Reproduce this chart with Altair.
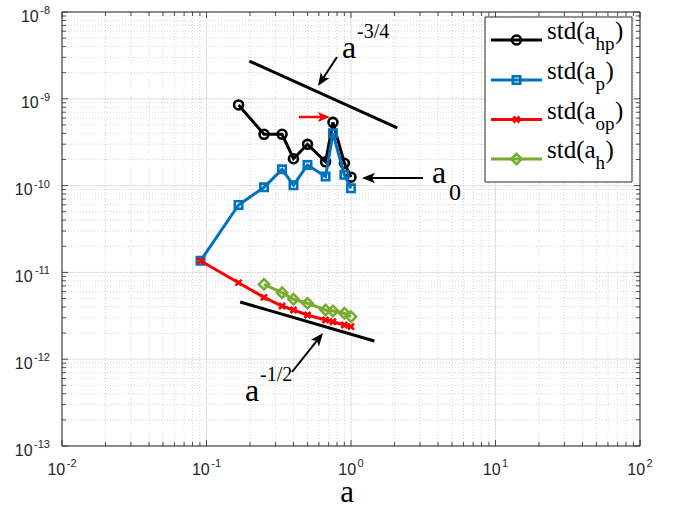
import math
import altair as alt
import pandas as pd

# ---------------- data ----------------
a_hp = [1/6, 0.25, 1/3, 0.4, 0.5, 0.667, 0.75, 0.9, 1.0]
std_hp = [8.5e-10, 3.9e-10, 3.9e-10, 2.04e-10, 2.99e-10, 1.88e-10, 5.36e-10, 1.81e-10, 1.25e-10]

a_p = [0.0909, 1/6, 0.25, 1/3, 0.4, 0.5, 0.667, 0.75, 0.9, 1.0]
std_p = [1.36e-11, 5.98e-11, 9.55e-11, 1.54e-10, 1.01e-10, 1.73e-10, 1.27e-10, 4.0e-10, 1.33e-10, 9.3e-11]

a_op = [0.0909, 1/6, 0.25, 1/3, 0.4, 0.5, 0.667, 0.75, 0.9, 1.0]
std_op = [1.36e-11, 7.61e-12, 5.16e-12, 4.10e-12, 3.69e-12, 3.23e-12, 2.83e-12, 2.70e-12, 2.48e-12, 2.37e-12]

a_h = [0.25, 1/3, 0.4, 0.5, 0.667, 0.75, 0.9, 1.0]
std_h = [7.29e-12, 5.84e-12, 4.90e-12, 4.41e-12, 3.69e-12, 3.59e-12, 3.38e-12, 3.09e-12]

ref34_a = [0.198, 2.09]
ref34_v = [2.72e-9, 4.61e-10]
ref12_a = [0.171, 1.45]
ref12_v = [4.56e-12, 1.62e-12]

x_major = [0.01, 0.1, 1, 10, 100]
x_exp = ["-2", "-1", "0", "1", "2"]
y_major = [1e-8, 1e-9, 1e-10, 1e-11, 1e-12, 1e-13]
y_exp = ["-8", "-9", "-10", "-11", "-12", "-13"]

legend_subs = ["hp", "p", "op", "h"]

# ---------------- layout ----------------
W, H = 578, 434
L, T = 62, 12
SERIF = "Liberation Serif"
SANS = "Liberation Sans"
AX = "#262626"

xs = alt.Scale(type="log", domain=[0.01, 100], nice=False)
ys = alt.Scale(type="log", domain=[1e-13, 1e-8], nice=False)

x_minor = [d * k for d in [0.01, 0.1, 1, 10] for k in range(2, 10)]
y_minor = [d * k for d in [1e-13, 1e-12, 1e-11, 1e-10, 1e-9] for k in range(2, 10)]

one = pd.DataFrame({"k": [0]})
layers = []

def X(field="a"):
    return alt.X(f"{field}:Q", scale=xs, axis=None)

def Y(field="v"):
    return alt.Y(f"{field}:Q", scale=ys, axis=None)

# grids
layers.append(alt.Chart(pd.DataFrame({"a": x_minor})).mark_rule(color="#cccccc", strokeWidth=0.8, strokeDash=[1, 2]).encode(x=X(), y=alt.value(0), y2=alt.value(H)))
layers.append(alt.Chart(pd.DataFrame({"v": y_minor})).mark_rule(color="#cccccc", strokeWidth=0.8, strokeDash=[1, 2]).encode(y=Y(), x=alt.value(0), x2=alt.value(W)))
layers.append(alt.Chart(pd.DataFrame({"a": x_major})).mark_rule(color="#dedede", strokeWidth=1).encode(x=X(), y=alt.value(0), y2=alt.value(H)))
layers.append(alt.Chart(pd.DataFrame({"v": y_major})).mark_rule(color="#dedede", strokeWidth=1).encode(y=Y(), x=alt.value(0), x2=alt.value(W)))

# ticks (inward, all four sides)
for vals, ln in [(x_minor, 4), (x_major, 6)]:
    df = pd.DataFrame({"a": vals})
    layers.append(alt.Chart(df).mark_rule(color=AX, strokeWidth=0.8).encode(x=X(), y=alt.value(H), y2=alt.value(H - ln)))
    layers.append(alt.Chart(df).mark_rule(color=AX, strokeWidth=0.8).encode(x=X(), y=alt.value(0), y2=alt.value(ln)))
for vals, ln in [(y_minor, 4), (y_major, 6)]:
    df = pd.DataFrame({"v": vals})
    layers.append(alt.Chart(df).mark_rule(color=AX, strokeWidth=0.8).encode(y=Y(), x=alt.value(0), x2=alt.value(ln)))
    layers.append(alt.Chart(df).mark_rule(color=AX, strokeWidth=0.8).encode(y=Y(), x=alt.value(W), x2=alt.value(W - ln)))

# frame
layers.append(alt.Chart(one).mark_rect(filled=False, stroke=AX, strokeWidth=1).encode(
    x=alt.value(0), x2=alt.value(W), y=alt.value(0), y2=alt.value(H)))

# tick labels
def sans_w(s, size):
    return sum(0.333 * size if c == "-" else 0.556 * size for c in s)

for v, e in zip(x_major, x_exp):
    df = pd.DataFrame({"a": [v]})
    w10 = sans_w("10", 16)
    tot = w10 + 1.5 + sans_w(e, 11)
    layers.append(alt.Chart(df).mark_text(font=SANS, fontSize=16, align="left", baseline="alphabetic", dx=-tot / 2, color=AX).encode(
        x=X(), y=alt.value(H + 29), text=alt.value("10")))
    layers.append(alt.Chart(df).mark_text(font=SANS, fontSize=11, align="left", baseline="alphabetic", dx=-tot / 2 + w10 + 1.5, color=AX).encode(
        x=X(), y=alt.value(H + 21), text=alt.value(e)))

for v, e in zip(y_major, y_exp):
    df = pd.DataFrame({"v": [v]})
    we = sans_w(e, 11)
    layers.append(alt.Chart(df).mark_text(font=SANS, fontSize=11, align="right", baseline="alphabetic", dy=2, color=AX).encode(
        y=Y(), x=alt.value(-12), text=alt.value(e)))
    layers.append(alt.Chart(df).mark_text(font=SANS, fontSize=16, align="right", baseline="alphabetic", dy=9.5, color=AX).encode(
        y=Y(), x=alt.value(-12 - we - 1.5), text=alt.value("10")))

# x title
layers.append(alt.Chart(one).mark_text(font=SERIF, fontSize=31, align="center", baseline="alphabetic", color="black").encode(
    x=alt.value(285), y=alt.value(490), text=alt.value("a")))

# reference slope lines
for aa, vv in [(ref34_a, ref34_v), (ref12_a, ref12_v)]:
    layers.append(alt.Chart(pd.DataFrame({"a": aa, "v": vv})).mark_line(color="black", strokeWidth=3).encode(x=X(), y=Y()))

# series
CROSS = "M-1,-1L1,1M1,-1L-1,1"
series = [
    (a_hp, std_hp, "#000000", "circle", 80),
    (a_p, std_p, "#0072BD", "square", 55),
    (a_op, std_op, "#FF0000", CROSS, 36),
    (a_h, std_h, "#77AC30", "diamond", 105),
]
for aa, vv, col, shp, sz in series:
    df = pd.DataFrame({"a": aa, "v": vv})
    layers.append(alt.Chart(df).mark_line(color=col, strokeWidth=3).encode(x=X(), y=Y()))
    layers.append(alt.Chart(df).mark_point(shape=shp, filled=False, size=sz, strokeWidth=2.6, color=col, opacity=1).encode(x=X(), y=Y()))

# annotations (pixel positions relative to plot area)
HEAD = "M0,0L-0.8,2L0,1.5L0.8,2Z"

def arrow(x0, y0, x1, y1, col, sw=2, size=170):
    x0, y0, x1, y1 = x0 - L, y0 - T, x1 - L, y1 - T
    dx, dy = x1 - x0, y1 - y0
    n = math.hypot(dx, dy)
    ang = math.degrees(math.atan2(dx, -dy)) % 360
    back = 0.6 * math.sqrt(size) / 2 * 1.5
    xe, ye = x1 - dx / n * back, y1 - dy / n * back
    out = [
        alt.Chart(one).mark_rule(color=col, strokeWidth=sw).encode(
            x=alt.value(x0), y=alt.value(y0), x2=alt.value(xe), y2=alt.value(ye)),
        alt.Chart(one).mark_point(shape=HEAD, filled=True, size=size, angle=ang, color=col, opacity=1, strokeWidth=0).encode(
            x=alt.value(x1), y=alt.value(y1)),
    ]
    return out

layers += arrow(337, 57, 318, 86, "black")
layers += arrow(299, 117, 330, 117, "#FF0000", sw=2.5, size=150)
layers += arrow(423, 178, 362, 178, "black")
layers += arrow(292, 372, 323, 333, "black")

def txt(s, x, y, size, align="left"):
    return alt.Chart(one).mark_text(font=SERIF, fontSize=size, align=align, baseline="alphabetic", color="black").encode(
        x=alt.value(x - L), y=alt.value(y - T), text=alt.value(s))

layers.append(txt("a", 342, 58, 32))
layers.append(txt("-3/4", 357, 38, 20))
layers.append(txt("a", 432, 183, 32))
layers.append(txt("0", 449, 200, 24))
layers.append(txt("a", 245, 401, 32))
layers.append(txt("-1/2", 260, 381, 20))

# legend
layers.append(alt.Chart(one).mark_rect(fill="white", stroke=AX, strokeWidth=1).encode(
    x=alt.value(485 - L), x2=alt.value(632 - L), y=alt.value(17 - T), y2=alt.value(182 - T)))

row_y = [40, 80, 119.5, 159]
serif_w = {"h": 0.5, "p": 0.5, "o": 0.5}
for (aa, vv, col, shp, sz), sub, yy in zip(series, legend_subs, row_y):
    ry = yy - T
    layers.append(alt.Chart(one).mark_rule(color=col, strokeWidth=3).encode(
        x=alt.value(491 - L), x2=alt.value(542 - L), y=alt.value(ry)))
    layers.append(alt.Chart(one).mark_point(shape=shp, filled=False, size=sz, strokeWidth=2.6, color=col, opacity=1).encode(
        x=alt.value(516.5 - L), y=alt.value(ry)))
    x0 = 547
    wmain = 1.944 * 25
    wsub = sum(serif_w[c] for c in sub) * 19
    layers.append(txt("std(a", x0, yy - 1, 25))
    layers.append(txt(sub, x0 + wmain, yy + 10, 19))
    layers.append(txt(")", x0 + wmain + wsub + 0.5, yy - 1, 25))

chart = alt.layer(*layers).properties(
    width=W, height=H,
    padding={"left": L, "top": T, "right": 682 - L - W, "bottom": 510 - T - H},
    autosize="none",
    background="white",
).configure_view(stroke=None)

chart.save("out.html", embed_options={"renderer": "svg", "actions": False})
